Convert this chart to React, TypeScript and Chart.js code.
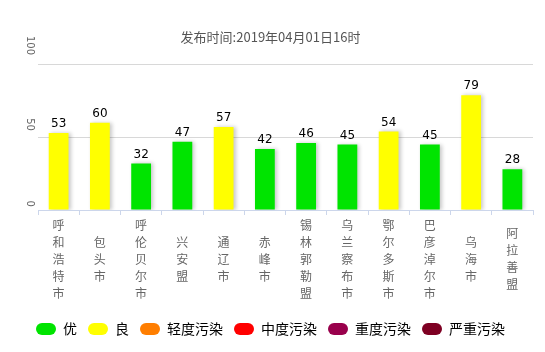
import React, { useEffect, useRef } from 'react';
import { Chart, registerables } from 'chart.js';

Chart.register(...registerables);

const titleText = '发布时间:2019年04月01日16时';
const cities = ['呼和浩特市', '包头市', '呼伦贝尔市', '兴安盟', '通辽市', '赤峰市', '锡林郭勒盟', '乌兰察布市', '鄂尔多斯市', '巴彦淖尔市', '乌海市', '阿拉善盟'];
const aqiValues = [53, 60, 32, 47, 57, 42, 46, 45, 54, 45, 79, 28];
const yTicks = [0, 50, 100];
const levelNames = ['优', '良', '轻度污染', '中度污染', '重度污染', '严重污染'];
const levelColors = ['#00e400', '#ffff00', '#ff7e00', '#ff0000', '#99004c', '#7e0023'];
const levelLimits = [50, 100, 150, 200, 300, 500];

const CJK = "'Noto Sans CJK SC', 'Noto Sans', sans-serif";

function levelIndex(v: number) {
  const i = levelLimits.findIndex((l) => v <= l);
  return i < 0 ? levelLimits.length - 1 : i;
}

export default function App() {
  const ref = useRef<HTMLCanvasElement>(null);

  useEffect(() => {
    if (!ref.current) return;

    const decor = {
      id: 'decor',
      beforeDatasetsDraw(chart: any) {
        const c = chart.ctx;
        c.save();
        c.shadowColor = 'rgba(0,0,0,0.22)';
        c.shadowBlur = 4;
        c.shadowOffsetX = 2;
        c.shadowOffsetY = 0;
      },
      afterDatasetsDraw(chart: any) {
        const c = chart.ctx;
        c.restore();
        const meta = chart.getDatasetMeta(0);
        c.save();
        c.fillStyle = '#000';
        c.font = "12px 'DejaVu Sans', sans-serif";
        c.textAlign = 'center';
        c.textBaseline = 'bottom';
        meta.data.forEach((bar: any, i: number) => {
          c.fillText(String(aqiValues[i]), bar.x, bar.y - 3);
        });
        c.restore();
        // y tick labels, rotated clockwise
        const ys = chart.scales.y;
        c.save();
        c.fillStyle = '#666';
        c.font = "10px 'DejaVu Sans', sans-serif";
        c.textAlign = 'right';
        c.textBaseline = 'middle';
        yTicks.forEach((v) => {
          const py = ys.getPixelForValue(v);
          const w = c.measureText(String(v)).width;
          c.save();
          c.translate(22, py - w / 2);
          c.rotate(Math.PI / 2);
          c.fillText(String(v), 0, 0);
          c.restore();
        });
        c.restore();
      },
    };

    const chart = new Chart(ref.current, {
      type: 'bar',
      data: {
        labels: cities.map((s) => s.split('')),
        datasets: [
          {
            label: 'AQI',
            data: aqiValues,
            backgroundColor: aqiValues.map((v) => levelColors[levelIndex(v)]),
            borderWidth: 0,
            categoryPercentage: 1,
            barPercentage: 0.48,
          },
        ],
      },
      options: {
        animation: false,
        responsive: false,
        maintainAspectRatio: false,
        layout: { padding: { left: 0, right: 4, top: 0, bottom: 0 } },
        scales: {
          x: {
            grid: {
              offset: true,
              drawOnChartArea: false,
              drawTicks: true,
              tickLength: 5,
              color: '#ccd6eb',
            },
            border: { display: true, color: '#ccd6eb', width: 1 },
            ticks: {
              autoSkip: false,
              maxRotation: 0,
              minRotation: 0,
              padding: 10,
              crossAlign: 'center',
              color: '#666',
              font: { family: CJK, size: 12, lineHeight: '17px' },
            },
            afterFit(scale: any) {
              scale.height = 101;
            },
          },
          y: {
            min: 0,
            max: 100,
            afterBuildTicks(scale: any) {
              scale.ticks = yTicks.map((v) => ({ value: v }));
            },
            grid: { color: '#d8d8d8', drawTicks: false },
            border: { display: false },
            ticks: { display: false },
            afterFit(scale: any) {
              scale.width = 30;
            },
          },
        },
        plugins: {
          title: {
            display: true,
            text: titleText,
            color: '#555',
            font: { family: CJK, size: 13, weight: 'normal' },
            padding: { top: 21, bottom: 20 },
          },
          legend: {
            display: true,
            position: 'bottom',
            onClick: () => {},
            labels: {
              boxWidth: 20,
              boxHeight: 12,
              useBorderRadius: true,
              borderRadius: 6,
              padding: 11,
              color: '#333',
              font: { family: CJK, size: 14 },
              generateLabels: () =>
                levelNames.map((name, i) => ({
                  text: name,
                  fillStyle: levelColors[i],
                  strokeStyle: levelColors[i],
                  lineWidth: 0,
                  hidden: false,
                  datasetIndex: 0,
                  borderRadius: 6,
                })),
            },
          },
          tooltip: { enabled: false },
        },
      },
      plugins: [decor],
    });

    return () => chart.destroy();
  }, []);

  return (
    <div style={{ width: 529, height: 336, overflow: 'hidden' }}>
      <canvas ref={ref} width={529} height={338} style={{ width: 529, height: 338, display: 'block' }} />
    </div>
  );
}
